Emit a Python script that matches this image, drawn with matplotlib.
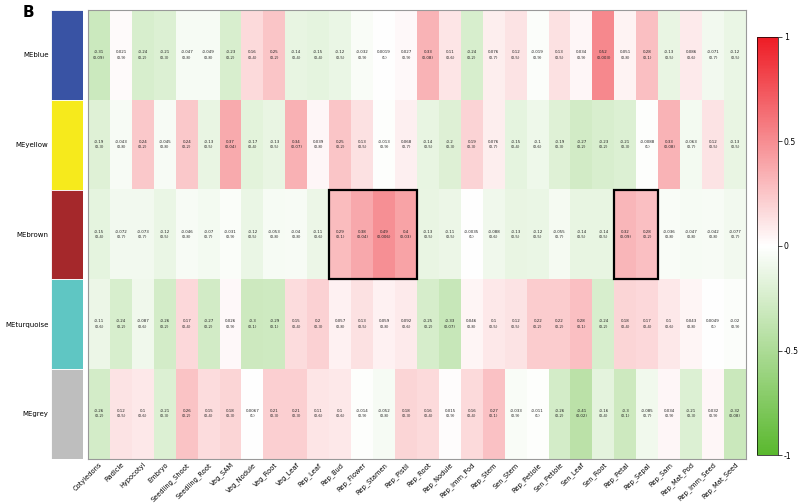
import numpy as np
import matplotlib.pyplot as plt
from matplotlib.colors import LinearSegmentedColormap
from matplotlib.patches import Rectangle

traits = ["Cotyledons", "Radicle", "Hypocotyl", "Embryo", "Seedling_Shoot", "Seedling_Root",
          "Veg_SAM", "Veg_Nodule", "Veg_Root", "Veg_Leaf", "Rep_Leaf", "Rep_Bud", "Rep_Flower",
          "Rep_Stamen", "Rep_Pistil", "Rep_Root", "Rep_Nodule", "Rep_Imm_Pod", "Rep_Stem",
          "Sen_Stem", "Rep_Petiole", "Sen_Petiole", "Sen_Leaf", "Sen_Root", "Rep_Petal",
          "Rep_Sepal", "Rep_Sam", "Rep_Mat_Pod", "Rep_Imm_Seed", "Rep_Mat_Seed"]
modules = ["MEblue", "MEyellow", "MEbrown", "MEturquoise", "MEgrey"]
module_colors = ["#3953a4", "#f6ea1c", "#a5282b", "#5fc6c3", "#bebebe"]

# correlation values
blue = [-0.31, 0.021, -0.24, -0.21, -0.047, -0.049, -0.23, 0.16, 0.25, -0.14, -0.15, -0.12, -0.032, 0.0019, 0.027,
        0.33, 0.11, -0.24, 0.076, 0.12, -0.019, 0.13, 0.034, 0.52, 0.051, 0.28, -0.13, 0.086, -0.071, -0.12]
yellow = [-0.19, -0.043, 0.24, -0.045, 0.24, -0.13, 0.37, -0.17, -0.13, 0.34, 0.039, 0.25, 0.13, -0.013, 0.068,
          -0.14, -0.2, 0.19, 0.076, -0.15, -0.1, -0.19, -0.27, -0.23, -0.21, -0.0088, 0.33, -0.063, 0.12, -0.13]
brown = [-0.15, -0.072, -0.073, -0.12, -0.046, -0.07, -0.031, -0.12, -0.053, -0.04, -0.11, 0.29, 0.38, 0.49, 0.4,
         -0.13, -0.11, -0.0035, -0.088, -0.13, -0.12, -0.055, -0.14, -0.14, 0.32, 0.28, -0.036, -0.047, -0.042, -0.077]
turquoise = [-0.11, -0.24, -0.087, -0.26, 0.17, -0.27, 0.026, -0.3, -0.29, 0.15, 0.2, 0.057, 0.13, 0.059, 0.092,
             -0.25, -0.33, 0.046, 0.10, 0.12, 0.22, 0.22, 0.28, -0.24, 0.18, 0.17, 0.1, 0.043, 0.0049, -0.02]
grey = [-0.26, 0.12, 0.1, -0.21, 0.26, 0.15, 0.18, 0.0067, 0.21, 0.21, 0.11, 0.1, -0.014, -0.052, 0.18,
        0.16, 0.015, 0.16, 0.27, -0.033, -0.011, -0.26, -0.41, -0.16, -0.3, -0.085, 0.034, -0.21, 0.032, -0.32]

# p values
blue_p = ["0.09", "0.9", "0.2", "0.3", "0.8", "0.8", "0.2", "0.4", "0.2", "0.4", "0.4", "0.5", "0.9", "1", "0.9",
          "0.08", "0.6", "0.2", "0.7", "0.5", "0.9", "0.5", "0.9", "0.003", "0.8", "0.1", "0.5", "0.6", "0.7", "0.5"]
yellow_p = ["0.3", "0.8", "0.2", "0.8", "0.2", "0.5", "0.04", "0.4", "0.5", "0.07", "0.8", "0.2", "0.5", "0.9", "0.7",
            "0.5", "0.3", "0.3", "0.7", "0.4", "0.6", "0.3", "0.2", "0.2", "0.3", "1", "0.08", "0.7", "0.5", "0.5"]
brown_p = ["0.4", "0.7", "0.7", "0.5", "0.8", "0.7", "0.9", "0.5", "0.8", "0.8", "0.6", "0.1", "0.04", "0.006", "0.03",
           "0.5", "0.5", "1", "0.6", "0.5", "0.5", "0.7", "0.5", "0.5", "0.09", "0.2", "0.8", "0.8", "0.8", "0.7"]
turquoise_p = ["0.6", "0.2", "0.6", "0.2", "0.4", "0.2", "0.9", "0.1", "0.1", "0.4", "0.3", "0.8", "0.5", "0.8", "0.6",
               "0.2", "0.07", "0.8", "0.5", "0.5", "0.2", "0.2", "0.1", "0.2", "0.4", "0.4", "0.6", "0.8", "1", "0.9"]
grey_p = ["0.2", "0.5", "0.6", "0.3", "0.2", "0.4", "0.3", "1", "0.3", "0.3", "0.6", "0.6", "0.9", "0.8", "0.3",
          "0.4", "0.9", "0.4", "0.1", "0.9", "1", "0.2", "0.02", "0.4", "0.1", "0.7", "0.9", "0.3", "0.9", "0.08"]

# highlighted blocks in MEbrown row: (first trait, last trait)
highlights = [("Rep_Bud", "Rep_Pistil"), ("Rep_Petal", "Rep_Sepal")]
highlight_row = "MEbrown"

corr = np.array([blue, yellow, brown, turquoise, grey])
pvals = [blue_p, yellow_p, brown_p, turquoise_p, grey_p]

cmap = LinearSegmentedColormap.from_list("gwr", ["#5ab82e", "#ffffff", "#ee1c25"])

fig = plt.figure(figsize=(8, 5.04), dpi=100)

ax = fig.add_axes([0.11, 0.09, 0.8225, 0.89])
ax.imshow(corr, cmap=cmap, vmin=-1, vmax=1, aspect="auto")
for i in range(len(modules)):
    for j in range(len(traits)):
        v = corr[i, j]
        ax.text(j, i, f"{v:g}\n({pvals[i][j]})", ha="center", va="center",
                fontsize=2.9, linespacing=1.4, color="#222222")
ax.set_xticks(range(len(traits)))
ax.set_xticklabels(traits, rotation=45, ha="right", rotation_mode="anchor", fontsize=4.8)
ax.set_yticks([])
ax.tick_params(axis="x", length=0, pad=2)
for s in ax.spines.values():
    s.set_color("#999999")
    s.set_linewidth(0.8)

r = modules.index(highlight_row)
for a, b in highlights:
    j0, j1 = traits.index(a), traits.index(b)
    ax.add_patch(Rectangle((j0 - 0.5, r - 0.5), j1 - j0 + 1, 1, fill=False,
                           edgecolor="black", linewidth=1.6, zorder=5))

# module colour bar
axm = fig.add_axes([0.064, 0.09, 0.04, 0.89])
for i, c in enumerate(module_colors):
    axm.add_patch(Rectangle((0, i - 0.5), 1, 1, facecolor=c, edgecolor="white", linewidth=0.6))
axm.set_xlim(0, 1)
axm.set_ylim(len(modules) - 0.5, -0.5)
axm.set_xticks([])
axm.set_yticks(range(len(modules)))
axm.set_yticklabels(modules, fontsize=5.0)
axm.tick_params(axis="y", length=0, pad=2)
for s in axm.spines.values():
    s.set_visible(False)

# colour bar
axc = fig.add_axes([0.946, 0.097, 0.026, 0.83])
sm = plt.cm.ScalarMappable(cmap=cmap, norm=plt.Normalize(-1, 1))
cb = fig.colorbar(sm, cax=axc, ticks=[-1, -0.5, 0, 0.5, 1])
cb.ax.set_yticklabels(["-1", "-0.5", "0", "0.5", "1"])
cb.ax.tick_params(labelsize=5.6, length=3, width=0.5, pad=1.5)
cb.outline.set_linewidth(0.5)

fig.text(0.035, 0.99, "B", fontsize=11, fontweight="bold", ha="center", va="top")

fig.savefig("out.png", dpi=100)
